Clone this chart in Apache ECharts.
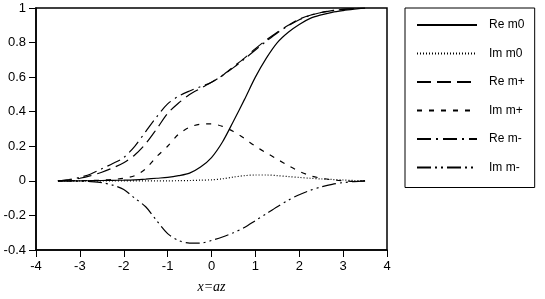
<!DOCTYPE html>
<html><head><meta charset="utf-8">
<script src="https://cdn.jsdelivr.net/npm/echarts@6/dist/echarts.min.js"></script>
<style>html,body{margin:0;padding:0;background:#fff}#c{width:545px;height:299px}</style>
</head><body><div id="c"></div>
<script>
var xs = [-3.5,-3.25,-3,-2.75,-2.5,-2.25,-2,-1.75,-1.5,-1.25,-1,-0.75,-0.5,-0.25,0,0.25,0.5,0.75,1,1.25,1.5,1.75,2,2.25,2.5,2.75,3,3.25,3.5];
var reM0  = [0,0,0,0.001,0.002,0.003,0.004,0.006,0.01,0.015,0.02,0.03,0.045,0.08,0.135,0.225,0.345,0.47,0.6,0.71,0.8,0.86,0.905,0.94,0.96,0.975,0.985,0.993,1.0];
var imM0  = [0,0,0,0,0,0,0,0,0,0,0,0.001,0.002,0.004,0.006,0.012,0.022,0.03,0.034,0.034,0.03,0.025,0.02,0.015,0.011,0.008,0.005,0.002,0];
var reMp  = [0,0.005,0.015,0.03,0.05,0.075,0.105,0.15,0.215,0.3,0.39,0.45,0.5,0.535,0.57,0.61,0.66,0.71,0.765,0.815,0.86,0.9,0.935,0.958,0.974,0.985,0.992,0.997,1.0];
var imMp  = [0,0.001,0.002,0.002,0.004,0.008,0.015,0.03,0.07,0.14,0.2,0.27,0.31,0.328,0.33,0.315,0.285,0.245,0.2,0.162,0.125,0.088,0.055,0.03,0.015,0.006,0,-0.003,0];
var reMm  = [0,0.008,0.02,0.04,0.07,0.1,0.135,0.2,0.285,0.37,0.445,0.49,0.52,0.545,0.57,0.61,0.655,0.705,0.757,0.808,0.856,0.897,0.932,0.957,0.974,0.985,0.992,0.997,1.0];
var imMm  = [0,-0.001,-0.002,-0.004,-0.01,-0.025,-0.05,-0.1,-0.15,-0.23,-0.305,-0.345,-0.36,-0.36,-0.345,-0.325,-0.3,-0.27,-0.23,-0.19,-0.15,-0.112,-0.08,-0.055,-0.035,-0.02,-0.01,-0.004,0];
var names = ['Re m0','Im m0','Re m+','Im m+','Re m-','Im m-'];
var xTicks = {min:-4, max:4, interval:1};
var yTicks = {min:-0.4, max:1, interval:0.2};

function pts(ys){ return xs.map(function(x,i){ return [x, ys[i]]; }); }
var dashes = ['solid',[1,2],[14,6],[5,7],[14,5,2,5],[14,4,2,4,2,4]];
var datas = [reM0, imM0, reMp, imMp, reMm, imMm];
var series = names.map(function(n,i){
  return {name:n, type:'line', data:pts(datas[i]), smooth:0.3, symbol:'none', showSymbol:false,
    lineStyle:{color:'#000', width:1.2, type:dashes[i]}, itemStyle:{color:'#000'}};
});
var chart = echarts.init(document.getElementById('c'), null, {renderer:'canvas'});
chart.setOption({
  animation:false,
  backgroundColor:'#fff',
  textStyle:{fontFamily:'Liberation Sans', color:'#000'},
  grid:{left:36, right:158, top:8, bottom:45, show:true, borderColor:'#000', borderWidth:1.5, containLabel:false},
  xAxis:{type:'value', min:xTicks.min, max:xTicks.max, interval:xTicks.interval,
    axisLine:{show:true, onZero:false, lineStyle:{color:'#000', width:1.5}},
    axisTick:{show:true, length:7, lineStyle:{color:'#000'}},
    axisLabel:{color:'#000', fontSize:13, margin:10, fontFamily:'Liberation Sans'},
    splitLine:{show:false},
    name:'x=az', nameLocation:'middle', nameGap:30,
    nameTextStyle:{fontFamily:'Liberation Serif', fontStyle:'italic', fontSize:14, color:'#000'}},
  yAxis:{type:'value', min:yTicks.min, max:yTicks.max, interval:yTicks.interval,
    axisLine:{show:true, onZero:false, lineStyle:{color:'#000', width:1.5}},
    axisTick:{show:true, length:7, lineStyle:{color:'#000'}},
    axisLabel:{color:'#000', fontSize:13, margin:10, fontFamily:'Liberation Sans'},
    splitLine:{show:false}},
  legend:{orient:'vertical', left:405, top:8, data:names,
    itemWidth:60, itemHeight:14, itemGap:16.5,
    padding:[11,10,14,11], borderColor:'#000', borderWidth:1,
    itemStyle:{opacity:0},
    textStyle:{fontSize:12, color:'#000', fontFamily:'Liberation Sans', width:48, padding:[0,0,0,7]}},
  series:series
});
</script></body></html>
